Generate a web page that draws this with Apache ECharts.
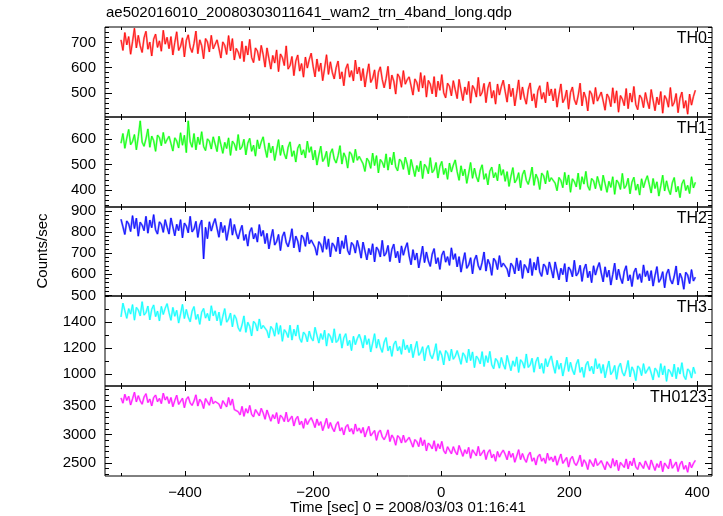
<!DOCTYPE html>
<html><head><meta charset="utf-8">
<script src="https://cdn.jsdelivr.net/npm/echarts@6/dist/echarts.min.js"></script>
<style>html,body{margin:0;padding:0;background:#fff}#c{width:723px;height:516px}</style>
</head><body><div id="c"></div>
<script>
// time bins (sec from 2008/03/03 01:16:41): 3 s bins from -500
const tStart = -500, tStep = 3;
const panelNames = ['TH0','TH1','TH2','TH3','TH0123'];
const colors = ['#ff0000','#00ff00','#0000ff','#00ffff','#ff00ff'];
const haloColors = ['#ff8c8c','#8cff8c','#7c7cff','#8cffff','#ff8cff'];
const yRanges = [[404,761],[333,687],[497,918],[908,1600],[2268,3857]];
const majorTicks = [[500,600,700],[400,500,600],[500,600,700,800,900],[1000,1200,1400],[2500,3000,3500]];
const minorSteps = [20,20,20,100,100];
const xMajor = [-400,-200,0,200,400];
const xMinor = [-500,-300,-100,100,300];

const th0 = [
710,668,739,690,723,653,703,756,678,728,686,660,718,744,673,701,646,713,733,680,706,665,748,693,720,
675,723,650,700,742,668,684,718,642,708,730,680,660,696,745,655,710,687,635,715,702,662,728,674,692,
710,675,638,702,688,652,727,666,715,630,676,662,636,704,624,686,650,712,640,620,678,666,628,688,652,
602,678,636,594,648,618,670,584,654,640,608,686,594,608,644,568,626,650,586,616,562,642,598,632,657,
605,563,634,585,618,548,598,651,573,623,581,555,600,626,555,583,528,595,615,562,588,547,630,575,602,
548,596,523,573,615,541,557,591,515,581,603,553,520,556,605,515,570,547,495,575,562,522,588,534,552,
563,528,491,555,541,505,580,519,568,483,549,535,496,564,484,546,510,572,500,480,538,526,488,548,512,
477,553,511,469,523,493,545,459,529,515,483,561,487,501,537,461,519,543,479,509,455,535,491,525,550,
505,463,534,485,518,448,498,551,473,523,481,455,513,539,468,496,441,508,528,475,501,460,543,488,515,
468,516,443,493,535,461,477,511,435,501,523,473,453,489,538,448,503,480,428,508,495,455,521,467,485,
503,468,431,495,481,445,520,459,508,423,489,475,449,517,437,499,463,525,453,433,491,479,441,501,465,
437,513,471,429,483,453,505,419,489,475,443,521,447,461,497,421,479,503,439,469,415,495,451,485,510];

const th1 = [
584,622,564,604,638,578,591,618,558,610,672,588,572,601,640,568,612,594,552,616,606,574,626,583,598,
611,583,553,605,593,565,625,576,615,547,672,589,568,622,558,608,579,629,571,555,601,592,561,609,581,
551,611,578,544,587,563,605,536,592,581,555,618,559,570,599,538,584,603,552,576,533,597,562,589,609,
562,528,585,546,572,516,556,598,536,576,542,522,568,589,532,554,510,564,580,538,558,526,592,548,570,
518,556,498,538,572,512,525,552,492,544,562,522,506,535,574,502,546,528,486,550,540,508,560,517,532,
531,503,473,525,513,485,545,496,535,467,520,509,488,542,478,528,499,549,491,475,521,512,481,529,501,
460,520,487,453,496,472,514,445,501,490,464,527,468,479,508,447,493,512,461,485,442,506,471,498,518,
472,438,495,456,482,426,466,508,446,486,452,432,478,499,442,464,420,474,490,448,468,436,502,458,480,
434,472,414,454,488,428,441,468,408,460,478,438,422,451,490,418,462,444,402,466,456,424,476,433,448,
455,427,397,449,437,409,469,420,459,391,444,433,412,466,402,452,423,473,415,399,445,436,405,453,425,
398,458,425,391,434,410,452,383,439,428,402,465,406,417,446,385,431,450,399,423,380,444,409,436,456,
422,388,445,406,432,376,416,458,396,436,402,382,428,449,392,414,370,424,440,398,418,386,452,408,430];

const th2 = [
860,825,788,852,838,802,877,816,865,780,846,832,806,874,794,856,820,882,810,790,848,836,798,858,822,
790,866,824,782,836,806,858,772,842,828,796,874,800,814,850,774,832,856,672,822,768,848,804,838,863,
817,775,846,797,830,760,810,863,785,835,793,767,805,831,760,788,733,800,820,767,793,752,835,780,807,
745,793,720,770,812,738,754,788,712,778,800,750,730,766,815,725,780,757,705,785,772,732,798,744,762,
762,727,690,754,740,704,779,718,767,682,748,734,708,776,696,758,722,784,712,692,750,738,700,760,724,
676,752,710,668,722,692,744,658,728,714,682,760,686,700,736,660,718,742,678,708,654,734,690,724,749,
687,645,716,667,700,630,680,733,655,705,663,637,695,721,650,678,623,690,710,657,683,642,725,670,697,
635,683,610,660,702,628,644,678,602,668,690,640,620,656,705,615,670,647,595,675,662,622,688,634,652,
660,625,588,652,638,602,677,616,665,580,646,632,606,674,594,656,620,682,610,590,648,636,598,658,622,
582,658,616,574,628,598,650,564,634,620,588,666,592,606,642,566,624,648,584,614,560,640,596,630,655,
606,564,635,586,619,549,599,652,574,624,582,556,614,640,569,597,542,609,629,576,602,561,644,589,616,
569,617,544,594,636,562,578,612,536,602,624,574,554,590,639,549,604,581,529,609,596,556,622,568,586];

const th3 = [
1439,1545,1486,1428,1503,1461,1534,1414,1512,1492,1447,1556,1453,1472,1523,1416,1498,1531,1442,1484,1408,1520,1458,1506,1541,
1472,1413,1512,1444,1490,1392,1462,1536,1427,1497,1438,1402,1483,1519,1420,1459,1382,1476,1504,1430,1466,1409,1525,1448,1486,
1409,1476,1374,1444,1503,1399,1422,1469,1363,1455,1426,1356,1328,1378,1447,1321,1398,1366,1293,1405,1387,1331,1423,1348,1373,
1383,1332,1278,1366,1344,1291,1394,1306,1373,1252,1341,1320,1281,1375,1261,1344,1292,1377,1274,1244,1322,1303,1248,1330,1278,
1255,1359,1298,1238,1311,1266,1337,1215,1311,1289,1241,1348,1243,1260,1309,1199,1279,1310,1219,1259,1180,1290,1226,1272,1305,
1261,1200,1297,1227,1271,1170,1238,1310,1199,1267,1205,1167,1246,1280,1179,1215,1136,1228,1254,1178,1211,1152,1266,1187,1223,
1165,1230,1126,1194,1251,1144,1165,1210,1102,1192,1220,1148,1118,1166,1233,1104,1179,1145,1070,1180,1159,1101,1191,1114,1137,
1180,1129,1075,1163,1141,1088,1191,1103,1170,1049,1138,1117,1078,1172,1058,1141,1089,1174,1071,1041,1119,1100,1045,1127,1075,
1037,1143,1084,1026,1101,1059,1132,1012,1110,1090,1045,1154,1051,1070,1121,1014,1096,1129,1040,1082,1006,1118,1056,1104,1139,
1065,1006,1105,1037,1083,985,1055,1129,1020,1090,1031,995,1076,1112,1013,1052,975,1069,1097,1023,1059,1002,1118,1041,1079,
1006,1073,971,1041,1100,996,1019,1066,960,1052,1083,1013,985,1035,1104,978,1055,1023,950,1062,1044,988,1080,1005,1030,
1056,1007,955,1045,1025,975,1080,994,1063,944,1036,1017,980,1076,964,1050,1000,1087,986,958,1039,1022,969,1053,1003];

const th0123 = [
3646,3554,3710,3602,3675,3521,3631,3748,3576,3686,3594,3536,3664,3721,3565,3627,3506,3653,3697,3580,3638,3547,3730,3609,3668,
3547,3653,3492,3602,3694,3532,3567,3642,3474,3620,3668,3558,3514,3593,3701,3503,3624,3573,3459,3635,3606,3518,3664,3545,3584,
3616,3539,3458,3598,3568,3488,3653,3519,3627,3440,3435,3404,3347,3497,3321,3457,3378,3514,3356,3312,3440,3413,3330,3462,3382,
3270,3433,3334,3236,3350,3278,3387,3192,3340,3304,3228,3394,3225,3250,3324,3151,3274,3321,3174,3235,3110,3281,3178,3247,3297,
3221,3123,3274,3161,3228,3069,3173,3285,3108,3212,3115,3051,3174,3226,3064,3121,2994,3136,3175,3052,3105,3008,3186,3060,3113,
3026,3125,2957,3060,3145,2976,3004,3072,2897,3036,3077,2960,2909,2981,3082,2877,2991,2933,2812,2981,2945,2850,2989,2863,2895,
2950,2866,2778,2911,2874,2787,2945,2804,2905,2711,2849,2811,2747,2890,2707,2836,2750,2879,2714,2663,2784,2750,2660,2785,2698,
2643,2807,2711,2616,2731,2662,2773,2581,2731,2697,2624,2791,2625,2653,2728,2558,2683,2732,2588,2651,2529,2701,2601,2673,2724,
2651,2556,2709,2598,2668,2511,2618,2733,2558,2665,2570,2509,2634,2688,2529,2588,2464,2608,2650,2530,2585,2491,2671,2547,2603,
2519,2623,2459,2566,2656,2491,2523,2595,2425,2568,2613,2501,2454,2530,2636,2435,2553,2500,2383,2556,2524,2434,2577,2455,2492,
2538,2461,2380,2520,2490,2410,2575,2441,2549,2362,2507,2476,2419,2569,2393,2529,2450,2586,2428,2384,2512,2485,2402,2534,2454,
2383,2551,2458,2366,2485,2419,2533,2344,2498,2467,2397,2568,2405,2436,2515,2348,2476,2529,2388,2454,2335,2511,2414,2489,2544];

const allSeries = [th0, th1, th2, th3, th0123];

const FONT = 'Liberation Sans, Arial, Helvetica, sans-serif';
const gridTops = [27,117,207,296,386];
const gridHeights = [90,90,89,90,90];
const fmtX = v => (v < 0 ? '\u2212' + Math.abs(v) : String(v));
const fmtY = v => String(v);

const grids = [], xAxes = [], yAxes = [], series = [], graphics = [];
for (let g = 0; g < 5; g++) {
  grids.push({left:105, right:11, top:gridTops[g], height:gridHeights[g], show:true, borderColor:'#000', borderWidth:1, backgroundColor:'transparent'});
  const isBottom = g === 4;
  const xBase = {gridIndex:g, type:'value', min:-525, max:423, splitLine:{show:false}, axisLine:{show:false, onZero:false}};
  xAxes.push(Object.assign({}, xBase, {position:'bottom',
    axisTick:{show:true, inside:true, length:5, customValues:xMajor, lineStyle:{color:'#000'}},
    axisLabel:{show:isBottom, customValues:xMajor, formatter:fmtX, color:'#000', fontFamily:FONT, fontSize:15, margin:9}}));
  xAxes.push(Object.assign({}, xBase, {position:'bottom',
    axisTick:{show:true, inside:true, length:3, customValues:xMinor, lineStyle:{color:'#000'}}, axisLabel:{show:false}}));
  xAxes.push(Object.assign({}, xBase, {position:'top',
    axisTick:{show:true, inside:true, length:5, customValues:xMajor, lineStyle:{color:'#000'}}, axisLabel:{show:false}}));
  xAxes.push(Object.assign({}, xBase, {position:'top',
    axisTick:{show:true, inside:true, length:3, customValues:xMinor, lineStyle:{color:'#000'}}, axisLabel:{show:false}}));

  const [lo, hi] = yRanges[g];
  const minors = [];
  const st = minorSteps[g];
  for (let v = Math.ceil(lo / st) * st; v <= hi; v += st) if (!majorTicks[g].includes(v)) minors.push(v);
  const yBase = {gridIndex:g, type:'value', min:lo, max:hi, splitLine:{show:false}, axisLine:{show:false, onZero:false}};
  yAxes.push(Object.assign({}, yBase, {position:'left',
    axisTick:{show:true, inside:true, length:7, customValues:majorTicks[g], lineStyle:{color:'#000'}},
    axisLabel:{show:true, customValues:majorTicks[g], formatter:fmtY, color:'#000', fontFamily:FONT, fontSize:15, margin:9}}));
  yAxes.push(Object.assign({}, yBase, {position:'left',
    axisTick:{show:true, inside:true, length:4, customValues:minors, lineStyle:{color:'#000'}}, axisLabel:{show:false}}));
  yAxes.push(Object.assign({}, yBase, {position:'right',
    axisTick:{show:true, inside:true, length:7, customValues:majorTicks[g], lineStyle:{color:'#000'}}, axisLabel:{show:false}}));
  yAxes.push(Object.assign({}, yBase, {position:'right',
    axisTick:{show:true, inside:true, length:4, customValues:minors, lineStyle:{color:'#000'}}, axisLabel:{show:false}}));

  const data = allSeries[g].map((v, i) => [tStart + i * tStep, v]);
  series.push({type:'line', xAxisIndex:4*g, yAxisIndex:4*g, data, showSymbol:false, silent:true, animation:false,
    lineStyle:{color:haloColors[g], width:2}, z:1});
  series.push({type:'line', xAxisIndex:4*g, yAxisIndex:4*g, data, showSymbol:false, silent:true, animation:false,
    lineStyle:{color:colors[g], width:0.8}, z:2});

  graphics.push({type:'text', right:16, top:gridTops[g] + 4, z:10,
    style:{text:panelNames[g], font:'16px ' + FONT, fill:'#000'}});
}

graphics.push({type:'text', left:106, top:5, style:{text:'ae502016010_20080303011641_wam2_trn_4band_long.qdp', font:'15px ' + FONT, fill:'#000'}});
graphics.push({type:'text', x:43, y:251, rotation:Math.PI/2, style:{text:'Counts/sec', font:'15px ' + FONT, fill:'#000', align:'center', verticalAlign:'middle'}});
graphics.push({type:'text', x:408, y:508, style:{text:'Time [sec] 0 = 2008/03/03 01:16:41', font:'15px ' + FONT, fill:'#000', align:'center', verticalAlign:'middle'}});

const chart = echarts.init(document.getElementById('c'), null, {renderer:'canvas'});
chart.setOption({animation:false, backgroundColor:'#fff', grid:grids, xAxis:xAxes, yAxis:yAxes, series, graphic:graphics});
</script>
</body></html>
